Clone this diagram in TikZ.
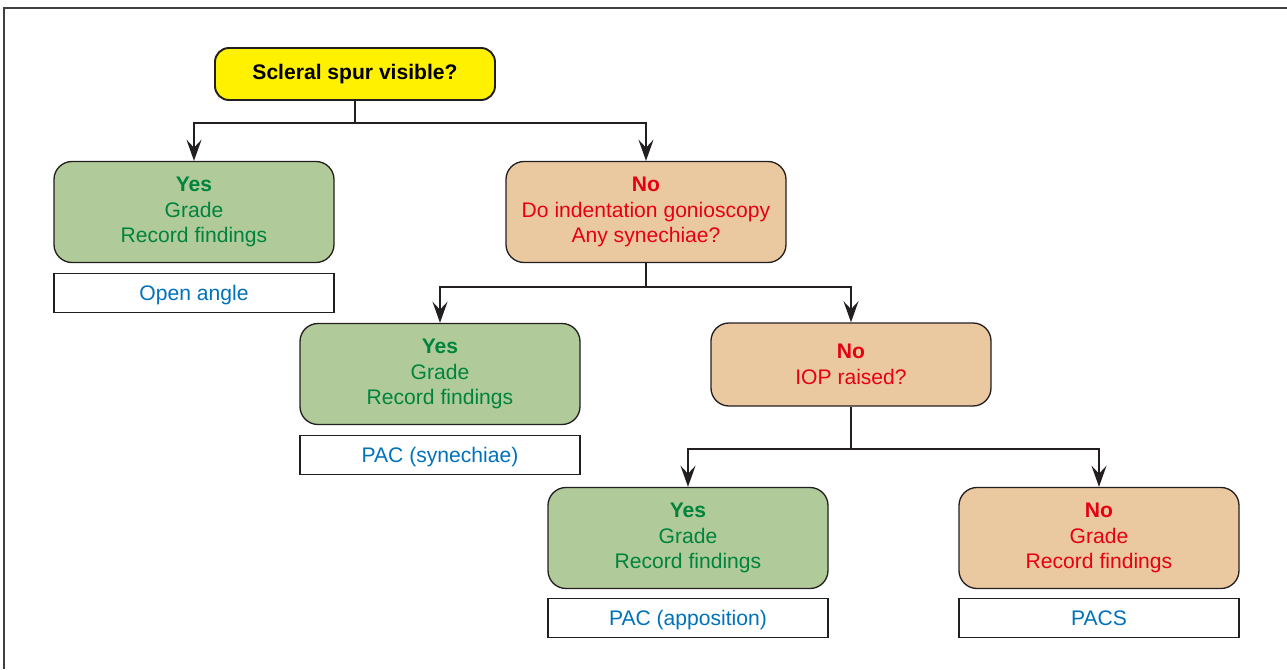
\documentclass[tikz,border=0pt]{standalone}
\usepackage{fontspec}
\setmainfont{Liberation Sans}
\usetikzlibrary{arrows.meta}

\definecolor{spuryellow}{HTML}{FFF100}
\definecolor{yesfill}{HTML}{B0CA9A}
\definecolor{nofill}{HTML}{EAC9A1}
\definecolor{yestext}{HTML}{00843D}
\definecolor{notext}{HTML}{E60012}
\definecolor{tagtext}{HTML}{0072BC}
\definecolor{edge}{HTML}{231F20}

\begin{document}
\begin{tikzpicture}[
  font=\fontsize{12}{14.5}\selectfont,
  box/.style={draw=edge, line width=0.75pt, rounded corners=0.36cm,
    minimum width=5.6cm, minimum height=2.02cm, align=center, inner sep=0pt},
  yesbox/.style={box, fill=yesfill, text=yestext},
  nobox/.style={box, fill=nofill, text=notext},
  startbox/.style={box, fill=spuryellow, line width=1.1pt, rounded corners=0.28cm,
    minimum height=1.04cm, font=\fontsize{12}{14.5}\selectfont\bfseries},
  tagbox/.style={draw=edge, line width=0.75pt, fill=white, text=tagtext,
    minimum width=5.6cm, minimum height=0.78cm, inner sep=0pt,
    text height=10pt, text depth=1.4pt},
  link/.style={draw=edge, line width=1.3pt,
    -{Stealth[length=12pt, width=8.5pt, inset=4.5pt]}},
]
  \useasboundingbox (0,0) rectangle (25.74,13.38);
  % frame, open at right and bottom
  \draw[line width=1pt, black!75] (0.08,0) -- (0.08,13.22) -- (25.74,13.22);

  % question at the top
  \node[startbox] (spur) at (7.10,11.90) {Scleral spur visible?};

  % first split
  \node[yesbox] (yesa) at (3.88,9.14) {\textbf{Yes}\\Grade\\Record findings};
  \node[tagbox] (open) at (3.88,7.52) {Open angle};
  \node[nobox] (noa) at (12.92,9.14)
    {\textbf{No}\\Do indentation gonioscopy\\Any synechiae?};

  % second split
  \node[yesbox] (yesb) at (8.80,5.90) {\textbf{Yes}\\Grade\\Record findings};
  \node[tagbox] (pacsyn) at (8.80,4.28) {PAC (synechiae)};
  \node[nobox, minimum height=1.66cm] (nob) at (17.02,6.09)
    {\textbf{No}\\IOP raised?};

  % third split
  \node[yesbox] (yesc) at (13.76,2.62) {\textbf{Yes}\\Grade\\Record findings};
  \node[tagbox] (pacapp) at (13.76,1.02) {PAC (apposition)};
  \node[nobox] (noc) at (21.98,2.62) {\textbf{No}\\Grade\\Record findings};
  \node[tagbox] (pacs) at (21.98,1.02) {PACS};

  % connectors
  \draw[link] (spur.south) -- ++(0,-0.44) -| (yesa.north);
  \draw[link] (spur.south) -- ++(0,-0.44) -| (noa.north);
  \draw[link] (noa.south) -- ++(0,-0.48) -| (yesb.north);
  \draw[link] (noa.south) -- ++(0,-0.48) -| (nob.north);
  \draw[link] (nob.south) -- ++(0,-0.84) -| (yesc.north);
  \draw[link] (nob.south) -- ++(0,-0.84) -| (noc.north);
\end{tikzpicture}
\end{document}
